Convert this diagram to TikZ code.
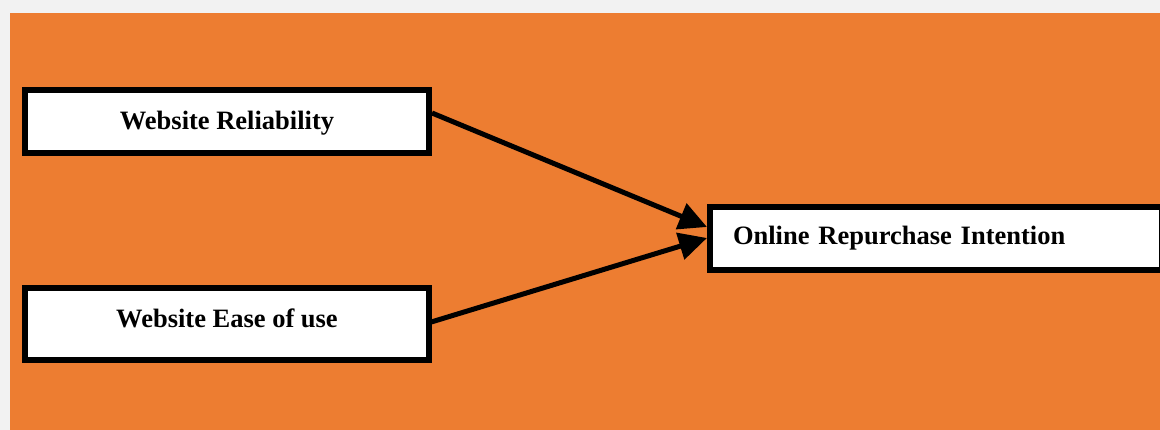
\documentclass[tikz,border=0pt]{standalone}
\usepackage{fontspec}
\setmainfont{Liberation Serif}
\usetikzlibrary{arrows.meta}

\definecolor{pagegray}{HTML}{F2F2F2}
\definecolor{bgorange}{HTML}{ED7D31}

\begin{document}
\begin{tikzpicture}[x=1pt,y=-1pt,
	factor/.style={draw, line width=6pt, fill=white, inner sep=0pt, minimum width=404pt, minimum height=63pt, font=\bfseries\fontsize{26.5}{30}\selectfont},
	outcome/.style={factor, minimum width=0pt, text width=406pt, inner xsep=23pt, align=left},
	link/.style={line width=5pt, -{Triangle[length=28pt,width=27pt]}}]
	\useasboundingbox (0,0) rectangle (1160,430);

	% Page and orange background
	\fill[pagegray] (0,0) rectangle (1160,430);
	\fill[bgorange] (10,13) rectangle (1160,430);

	% Factors
	\node[factor, text depth=2pt] (rel) at (227,121.5) {Website Reliability};
	\node[factor, minimum height=72pt, text depth=12pt] (ease) at (227,324) {Website Ease of use};
	\node[outcome] (ori) at (936,238.5) {Online Repurchase Intention};

	% Arrows
	\draw[link] ([yshift=8.5pt]rel.east) -- ([yshift=11.5pt]ori.west);
	\draw[link] ([xshift=-4pt,yshift=1pt]ease.east) -- ([yshift=0.5pt]ori.west);

\end{tikzpicture}
\end{document}
